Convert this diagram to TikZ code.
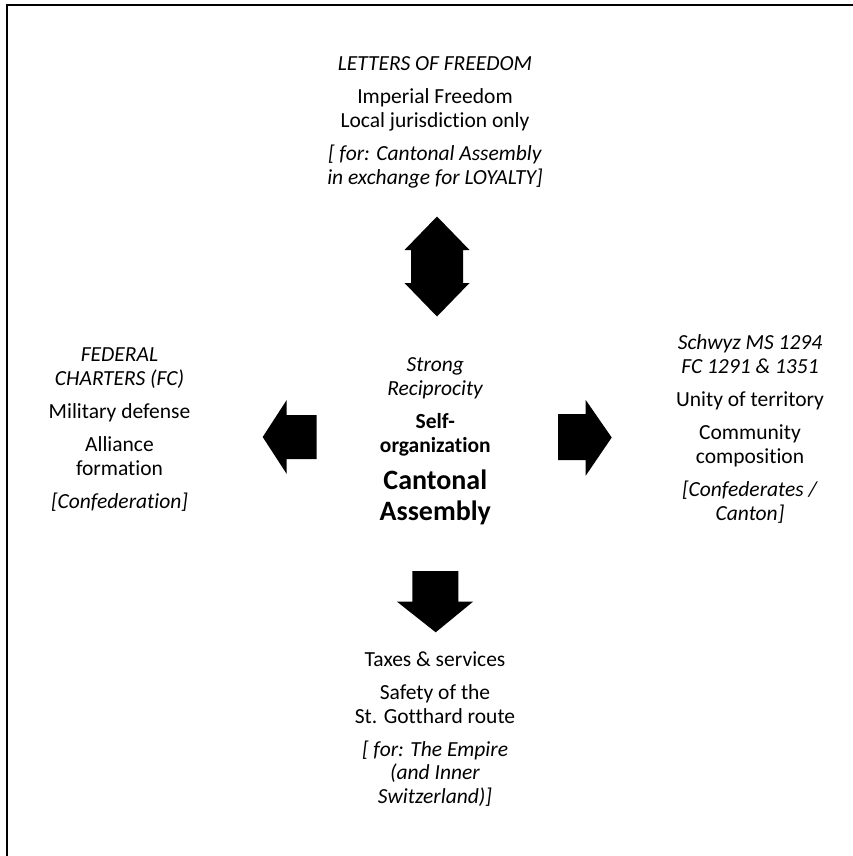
\documentclass[tikz,border=0pt]{standalone}
\usepackage{fontspec}
\setmainfont{Carlito}[Ligatures=NoCommon]
\usepackage{tikz}

\begin{document}
\begin{tikzpicture}[x=1pt,y=-1pt,
  blk/.style={align=center,inner sep=0pt,font=\fontsize{21.5}{23.7}\selectfont},
  big/.style={align=center,inner sep=0pt,font=\fontsize{28}{31}\selectfont\bfseries},
  blockarrow/.style={fill=black}]
\useasboundingbox (0,0) rectangle (853,856);
\path[draw,line width=2pt] (7,856) -- (7,5) -- (853,5);

\node[blk] (freedom) at (435,122.5) {\textit{LETTERS OF FREEDOM}\\[9.5pt]Imperial Freedom\\Local jurisdiction only\\[9.5pt]\textit{[ for: Cantonal Assembly}\\\textit{in exchange for LOYALTY]}};
\node[blk] (charters) at (119.5,429.5) {\textit{FEDERAL}\\\textit{CHARTERS (FC)}\\[9.5pt]Military defense\\[9.5pt]Alliance\\formation\\[9.5pt]\textit{[Confederation]}};
\node[blk] (schwyz) at (750,429) {\textit{Schwyz MS 1294}\\\textit{FC 1291 \& 1351}\\[9.5pt]Unity of territory\\[9.5pt]Community\\composition\\[9.5pt]\textit{[Confederates /}\\\textit{Canton]}};
\node[blk] (taxes) at (435,729) {Taxes \& services\\[9.5pt]Safety of the\\St. Gotthard route\\[9.5pt]\textit{[ for: The Empire}\\\textit{(and Inner}\\\textit{Switzerland)]}};

\node[blk] (recip) at (435.3,378.5) {\textit{Strong}\\\textit{Reciprocity}};
\node[blk,font=\fontsize{21.5}{23.7}\selectfont\bfseries] (selforg) at (435.3,434.5) {Self-\\organization};
\node[big] (canton) at (435.3,497) {Cantonal\\Assembly};

\path[blockarrow] (437,216.5) -- (469.5,250) -- (463,250) -- (463,283) -- (469.5,283) -- (437,316.5) -- (404.5,283) -- (411,283) -- (411,250) -- (404.5,250) -- cycle;
\path[blockarrow] (262.7,437) -- (286.7,400) -- (286.7,415) -- (316.7,415) -- (316.7,459) -- (286.7,459) -- (286.7,474) -- cycle;
\path[blockarrow] (558,414) -- (585.7,414) -- (585.7,400) -- (611.7,437.5) -- (585.7,475.7) -- (585.7,460) -- (558,460) -- cycle;
\path[blockarrow] (412.3,571) -- (458.3,571) -- (458.3,601.7) -- (473,601.7) -- (435.7,632.3) -- (397,601.7) -- (412.3,601.7) -- cycle;
\end{tikzpicture}
\end{document}
